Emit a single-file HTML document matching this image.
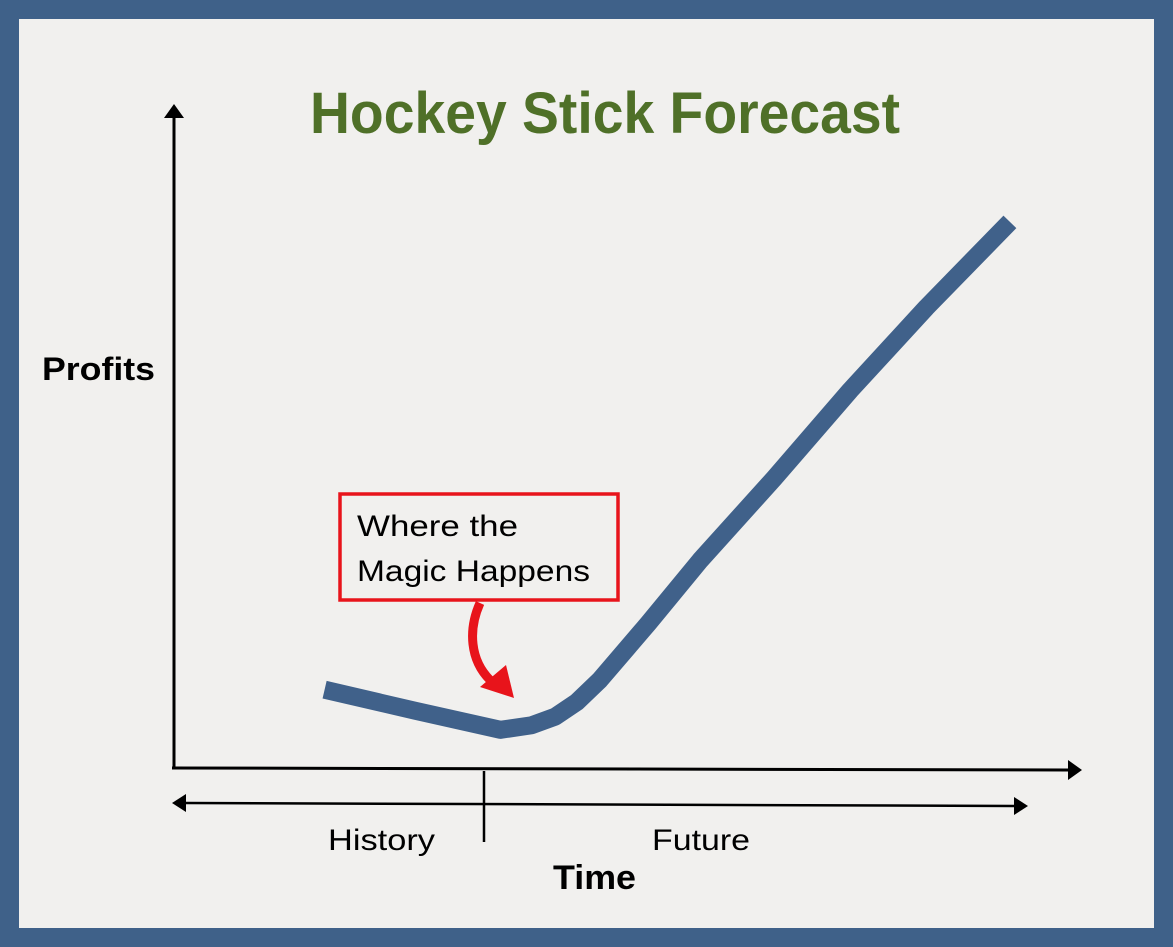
<!DOCTYPE html>
<html><head><meta charset="utf-8"><style>
html,body{margin:0;padding:0;}
body{width:1173px;height:947px;background:#3f6189;position:relative;overflow:hidden;font-family:"Liberation Sans",sans-serif;}
#panel{position:absolute;left:19px;top:19px;width:1135px;height:909px;background:#f1f0ee;}
svg{position:absolute;left:0;top:0;}
</style></head><body>
<div id="panel"></div>
<svg id="chart" width="1173" height="947">
<text x="310" y="133" textLength="590" lengthAdjust="spacingAndGlyphs" font-family="Liberation Sans, sans-serif" font-weight="bold" font-size="58" fill="#4f7028">Hockey Stick Forecast</text>
<text x="42" y="380" textLength="113" lengthAdjust="spacingAndGlyphs" font-weight="bold" font-size="32" fill="#000">Profits</text>
<text x="553" y="889" textLength="83" lengthAdjust="spacingAndGlyphs" font-weight="bold" font-size="34" fill="#000">Time</text>
<text x="328" y="850" textLength="107" lengthAdjust="spacingAndGlyphs" font-size="30" fill="#000">History</text>
<text x="652" y="850" textLength="98" lengthAdjust="spacingAndGlyphs" font-size="30" fill="#000">Future</text>
<g>
<line x1="174" y1="768" x2="174" y2="118" stroke="#000" stroke-width="3"/>
<polygon points="174,104 164,118 184,118" fill="#000"/>
</g>
<g>
<line x1="172" y1="768" x2="1068" y2="770" stroke="#000" stroke-width="3"/>
<polygon points="1082,770 1068,760 1068,780" fill="#000"/>
</g>
<g>
<line x1="185" y1="803" x2="1014" y2="806" stroke="#000" stroke-width="2.5"/>
<polygon points="172,803 186,794 186,812" fill="#000"/>
<polygon points="1028,806 1014,797 1014,815" fill="#000"/>
<line x1="484" y1="771" x2="484" y2="842" stroke="#000" stroke-width="2.5"/>
</g>
<g>
<rect x="340" y="494" width="278" height="106" fill="none" stroke="#e8141b" stroke-width="3.5"/>
<text x="357" y="536" textLength="161" lengthAdjust="spacingAndGlyphs" font-size="30" fill="#000">Where the</text>
<text x="357" y="581" textLength="233" lengthAdjust="spacingAndGlyphs" font-size="30" fill="#000">Magic Happens</text>
</g>
<g>
<path d="M480,603 C468,630 470,660 490,680" fill="none" stroke="#e8141b" stroke-width="9"/>
<polygon points="480,687 506,665 514,698" fill="#e8141b"/>
</g>
<path id="series" fill="none" stroke="#40618a" stroke-width="18" stroke-linejoin="round" stroke-linecap="butt"/>
</svg>
<script>
const timeValues = [16.9, 27, 36.5, 40, 42.6, 45, 47.6, 53, 58.8, 67, 75.5, 84, 93.3];
const profitValues = [11.9, 8.7, 5.8, 6.5, 7.8, 10, 13.4, 22, 31.6, 44, 57.4, 70, 83.0];
function xScale(t){return 173 + t*(1070-173)/100;}
function yScale(v){return 768 - v*(768-110)/100;}
const pts = timeValues.map((t,i)=>[xScale(t), yScale(profitValues[i])]);
let d = 'M'+pts[0][0]+','+pts[0][1];
for(let i=1;i<pts.length;i++){d+=' L'+pts[i][0]+','+pts[i][1];}
const line = document.getElementById('series');
line.setAttribute('d', d);
</script>
</body></html>
